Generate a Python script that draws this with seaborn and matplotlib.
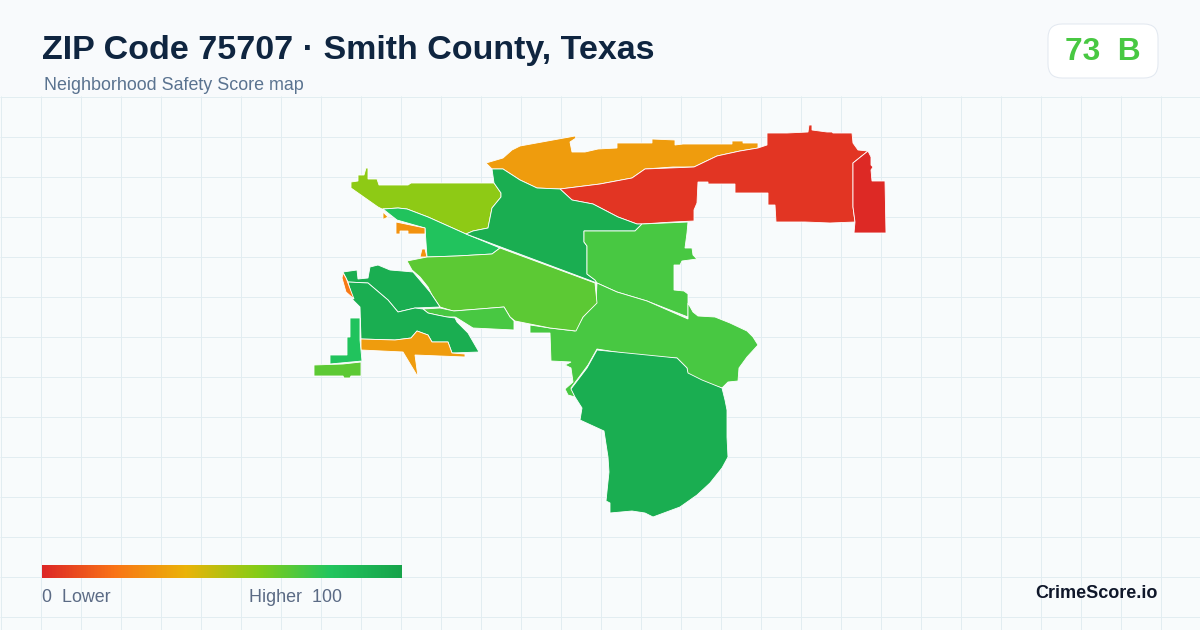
import numpy as np
import seaborn as sns
import matplotlib
matplotlib.use('Agg')
import matplotlib.pyplot as plt
from matplotlib.patches import FancyBboxPatch

# colour ramp, evenly spaced from score 0 to score 100
ramp_colors = ['#dc2626', '#f97316', '#eab308', '#84cc16', '#22c55e', '#16a34a']

# block group outlines (x, y in picture pixels) with a score
lime_nw = [(351,182),(358,181),(358,175),(364,175),(366,168),(368,168),(368,179),(377,179),(379,185),(408,185),(411,183),(494,183),(501,193),(501,197),(492,208),(488,228),(473,231),(466,234),(428,217),(407,209),(398,208),(382,209),(378,207),(351,188)]
strip_nw = [(383,209),(398,208),(407,209),(428,217),(466,234),(500,248),(492,254),(457,256),(427,257),(425,228),(397,220)]
bit_a = [(383,212),(388,217),(384,219),(383,219)]
bit_b = [(396,222),(425,228),(425,234),(408,234),(408,231),(400,231),(400,234),(396,234)]
bit_c = [(420,257),(422,249),(425,249),(427,257)]
orange_top = [(486,163),(503,158),(512,150),(520,146),(575,136),(576,138),(570,142),(572,152),(585,152),(598,149),(617,148),(617,143),(652,143),(652,139),(675,140),(675,145),(683,144),(732,144),(732,141),(743,141),(743,143),(758,143),(758,148),(740,151),(717,156),(694,167),(673,167),(645,169),(632,178),(600,184),(560,189),(537,188),(520,180),(503,169),(492,169)]
red_big = [(560,189),(600,184),(632,178),(645,169),(694,167),(717,156),(740,151),(758,148),(767,145),(767,133),(787,133),(808,132),(809,125),(812,125),(812,130),(827,132),(832,132),(833,133),(852,133),(853,143),(858,150),(868,151),(853,163),(853,207),(855,222),(830,223),(805,222),(776,222),(775,205),(768,205),(768,193),(735,193),(735,184),(708,184),(708,182),(698,182),(697,203),(694,210),(694,221),(673,222),(642,224),(637,224),(618,217),(593,204),(572,200)]
red_east = [(868,151),(871,157),(871,165),(873,167),(871,170),(872,181),(885,181),(886,233),(854,233),(855,222),(853,207),(853,163)]
dark_center = [(492,169),(503,169),(520,180),(537,188),(560,189),(572,200),(593,204),(618,217),(637,224),(642,224),(635,231),(584,231),(584,242),(587,246),(587,274),(595,280),(597,283),(466,234),(473,231),(488,228),(492,208),(501,197),(501,193),(494,183)]
green_ne = [(584,231),(635,231),(642,224),(688,222),(687,233),(685,248),(692,248),(693,255),(697,259),(682,261),(680,265),(674,265),(674,290),(684,291),(688,294),(688,317),(647,301),(617,292),(597,283),(595,280),(587,274),(587,246),(584,242)]
green_se = [(597,283),(617,292),(647,301),(688,319),(688,303),(693,312),(698,316),(715,317),(730,323),(747,331),(753,337),(758,345),(747,357),(739,368),(738,381),(728,382),(722,388),(703,382),(688,375),(687,368),(677,358),(640,356),(597,349),(588,365),(571,388),(575,397),(568,395),(565,389),(573,382),(571,368),(565,365),(571,362),(551,361),(550,333),(530,333),(530,325),(550,328),(575,331),(583,317),(596,303)]
mid_green = [(407,261),(427,257),(457,256),(492,254),(500,248),(595,283),(597,303),(583,317),(576,331),(550,328),(530,324),(515,321),(510,317),(504,307),(480,309),(453,311),(440,307),(432,295),(428,287),(420,277),(412,270)]
green_sw = [(423,309),(440,308),(454,311),(504,307),(510,317),(514,321),(514,330),(473,328),(457,318),(455,317),(447,317),(437,315),(428,313)]
dark_nw = [(343,272),(357,270),(358,279),(368,278),(370,267),(378,265),(390,270),(402,271),(413,272),(430,292),(440,307),(415,308),(398,312),(388,300),(368,283),(348,282)]
dark_sw = [(348,282),(368,283),(388,300),(398,312),(415,308),(423,309),(428,313),(437,315),(447,317),(455,318),(457,322),(468,333),(479,352),(452,353),(448,342),(432,342),(428,335),(417,331),(411,338),(395,340),(361,339),(360,307),(353,300)]
orange_low = [(361,339),(395,340),(411,338),(417,331),(428,335),(432,342),(448,342),(452,353),(465,354),(465,357),(440,356),(415,355),(418,377),(403,352),(361,350)]
deep_orange = [(343,273),(346,278),(354,299),(346,292),(342,278)]
column_sw = [(350,318),(360,318),(360,340),(362,361),(330,364),(330,355),(347,355),(347,337),(350,337)]
foot_sw = [(314,365),(343,364),(361,362),(361,376),(351,376),(350,378),(344,378),(343,376),(314,376)]
dark_south = [(597,350),(677,358),(687,368),(688,373),(702,380),(722,388),(725,400),(727,410),(727,437),(728,457),(722,468),(710,483),(697,495),(680,507),(653,517),(645,513),(632,511),(610,513),(610,503),(606,501),(609,472),(608,457),(604,431),(580,420),(582,408),(575,397),(571,389),(587,368)]

regions = [lime_nw, strip_nw, bit_a, bit_b, bit_c, orange_top, red_big, red_east, dark_center,
           green_ne, green_se, mid_green, green_sw, dark_nw, dark_sw, orange_low, deep_orange,
           column_sw, foot_sw, dark_south]
scores = [58, 81, 33, 30, 30, 33, 4, 1, 93,
          72, 72, 68, 72, 93, 93, 33, 22,
          81, 68, 93]

score_value = '73'
score_grade = 'B'
legend_low = '0  Lower'
legend_high = 'Higher  100'

sns.set_theme(style='white', rc={'font.family': ['Liberation Sans', 'DejaVu Sans']})
cmap = sns.blend_palette(ramp_colors, as_cmap=True)

fig = plt.figure(figsize=(12, 6.3), dpi=100, facecolor='#f8fafc')
ax = fig.add_axes([0, 0, 1, 1])
ax.set_xlim(0, 1200)
ax.set_ylim(630, 0)
ax.axis('off')

# map area background with a light grid
ax.fill_between([0, 1200], 96, 630, color='#f8fbfc', lw=0, zorder=0)
ax.vlines(np.arange(0.5, 1200, 40), 96, 630, color='#e2edf1', lw=0.72, zorder=1)
ax.hlines(np.arange(96.5, 630, 40), 0, 1200, color='#e2edf1', lw=0.72, zorder=1)

for outline, score in zip(regions, scores):
    xs, ys = zip(*outline)
    ax.fill(xs, ys, facecolor=cmap(score / 100), edgecolor='white', lw=0.6, zorder=2)

# header
ax.text(42, 50, 'ZIP Code 75707 · Smith County, Texas', fontsize=24.5, fontweight='bold',
        color='#0f2540', va='center', ha='left', zorder=3)
ax.text(44, 86, 'Neighborhood Safety Score map', fontsize=12.9, color='#5a7390',
        va='center', ha='left', zorder=3)

# score badge
ax.add_patch(FancyBboxPatch((1062, 38), 82, 26, boxstyle='round,pad=14,rounding_size=14',
                            facecolor='white', edgecolor='#e2e8f0', lw=0.72, zorder=3))
ax.text(1103, 52, score_value + '  ' + score_grade, fontsize=22.8, fontweight='bold',
        color=cmap(0.72), va='center', ha='center', zorder=4)

# gradient legend
cax = fig.add_axes([42 / 1200, 1 - 578 / 630, 360 / 1200, 13 / 630])
sns.heatmap(np.linspace(0, 100, 256).reshape(1, -1), ax=cax, cmap=cmap, vmin=0, vmax=100,
            cbar=False, xticklabels=False, yticklabels=False)
ax.text(42, 598, legend_low, fontsize=12.9, color='#5b6b85', va='center', ha='left', zorder=3)
ax.text(249, 598, legend_high, fontsize=12.9, color='#5b6b85', va='center', ha='left', zorder=3)

ax.text(1158, 593.5, 'CrimeScore.io', fontsize=13, fontweight='bold', color='#0f172a',
        va='center', ha='right', zorder=3)

fig.savefig('out.png', dpi=100)
